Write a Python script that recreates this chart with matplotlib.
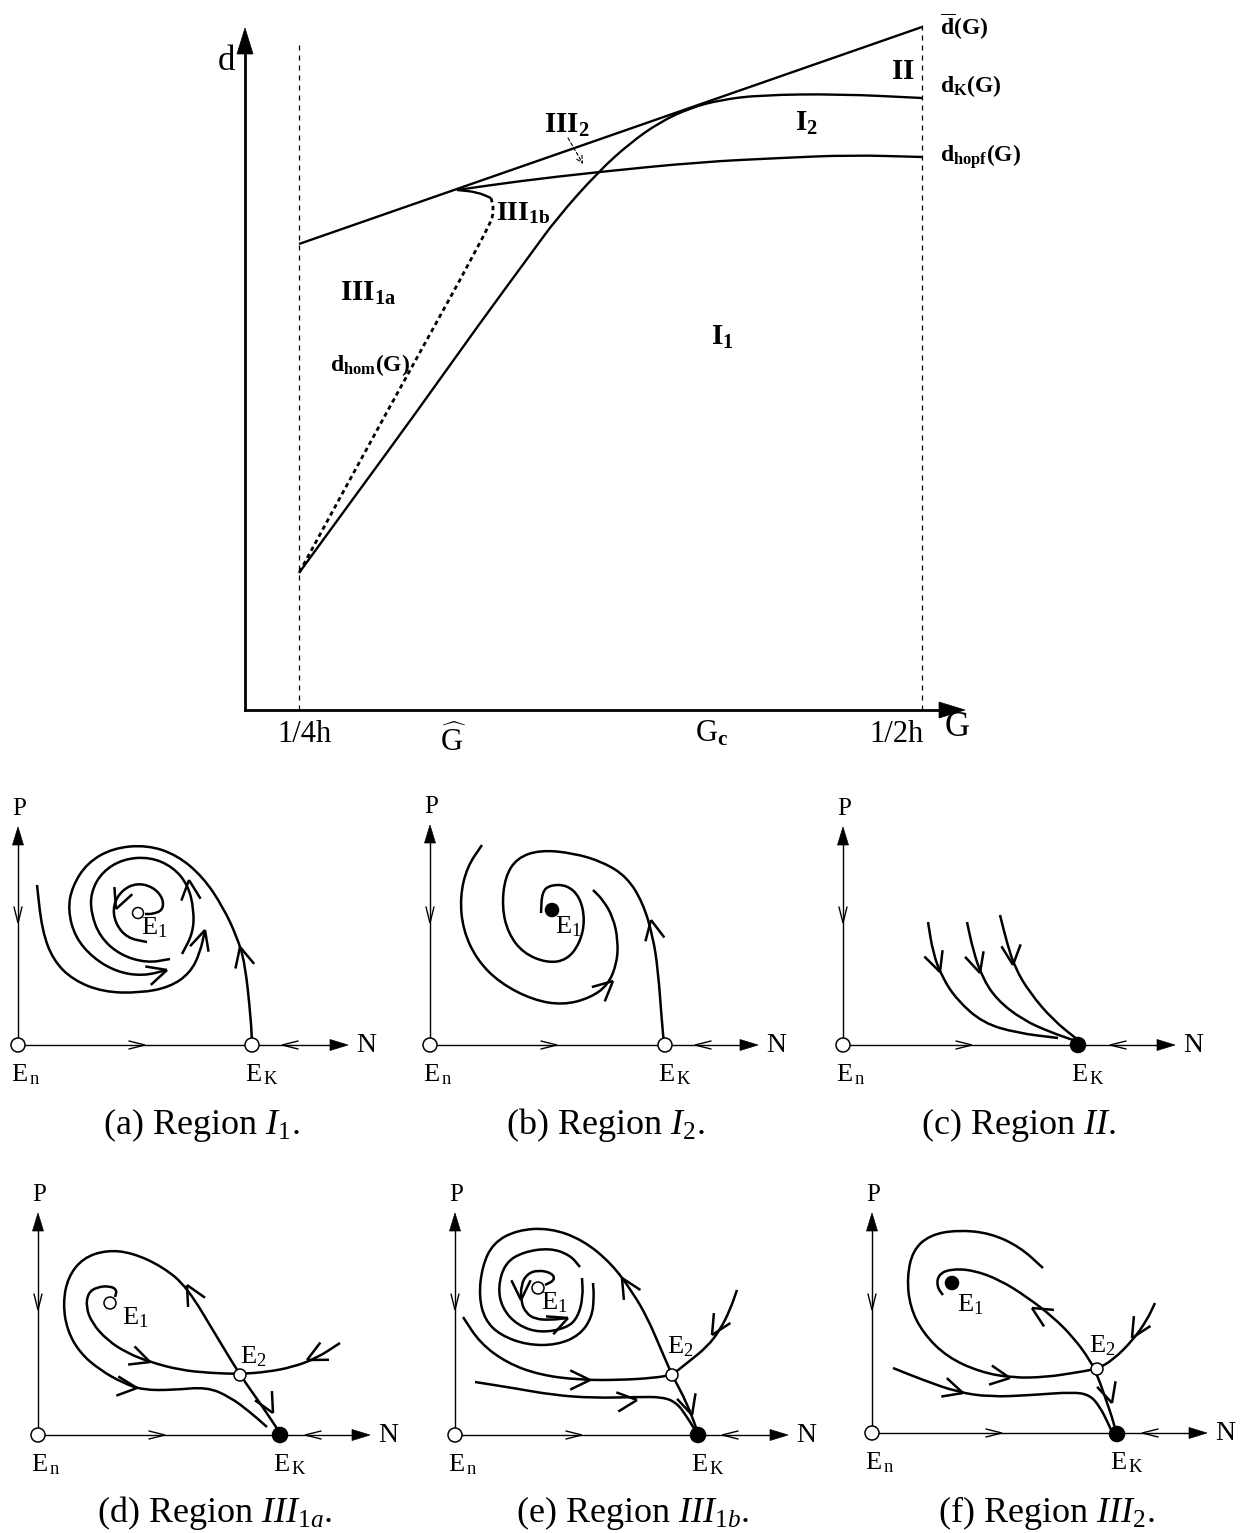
import numpy as np
import matplotlib
matplotlib.use("Agg")
import matplotlib.pyplot as plt
from matplotlib.path import Path
from matplotlib.patches import PathPatch, Circle, Polygon

plt.rcParams['font.family'] = ['Liberation Serif', 'DejaVu Serif']
plt.rcParams['mathtext.fontset'] = 'custom'
plt.rcParams['mathtext.rm'] = 'Liberation Serif'
plt.rcParams['mathtext.it'] = 'Liberation Serif:italic'
plt.rcParams['mathtext.bf'] = 'Liberation Serif:bold'

# ---------------- bifurcation diagram (pixel coords, y down) ----------------
d_bar = [(299, 244), (922, 27)]
d_K = [(299, 573), (350, 503), (413, 417), (480, 323), (530, 255), (557, 218),
       (598, 172), (630, 143), (660, 122), (690, 108), (720, 100), (760, 95),
       (840, 94), (922, 98)]
d_hopf = [(457, 190), (520, 181), (598, 172), (700, 162), (780, 158),
          (850, 155), (922, 157)]
cusp_branch = [(457, 190), (477, 192), (491, 198)]
d_hom = [(491, 198), (494, 210), (490, 226), (384, 417), (299, 573)]

tick_labels = ['1/4h', r'$\widehat{\mathrm{G}}$', r'$\mathrm{G}_{\mathbf{c}}$', '1/2h']
tick_x = [304, 453, 712, 897]
tick_y = [734, 741, 734, 734]

region_labels = [r'$\mathbf{II}$', r'$\mathbf{I}_{\mathbf{2}}$', r'$\mathbf{III}_{\mathbf{2}}$',
                 r'$\mathbf{III}_{\mathbf{1b}}$', r'$\mathbf{III}_{\mathbf{1a}}$',
                 r'$\mathbf{I}_{\mathbf{1}}$', r'$\mathbf{d}_{\mathbf{hom}}\mathbf{(G)}$']
region_xy = [(903, 72), (806, 123), (567, 125), (523, 213), (368, 293), (722, 337), (370, 365)]
region_size = [21, 21, 21, 20, 21, 21, 17]

curve_labels = [r'$\overline{\mathbf{d}}\mathbf{(G)}$', r'$\mathbf{d}_{\mathbf{K}}\mathbf{(G)}$',
                r'$\mathbf{d}_{\mathbf{hopf}}\mathbf{(G)}$']
curve_label_y = [27, 86, 157]

# ---------------- phase portraits ----------------
# axes: origin, P-arrow tip y, N-arrow tip x, chevrons (P down y, N right x, N left x)
A_AXES = [(18, 1045), 827, 348, (923, 145, 282)]
B_AXES = [(430, 1045), 825, 758, (923, 557, 695)]
C_AXES = [(843, 1045), 827, 1175, (923, 972, 1110)]
D_AXES = [(38, 1435), 1213, 370, (1310, 165, 305)]
E_AXES = [(455, 1435), 1213, 788, (1310, 582, 722)]
F_AXES = [(872, 1433), 1213, 1207, (1310, 1002, 1142)]

# (a) Region I1
A_SPIRAL = [(252, 1044), (251, 1020), (245, 963), (237, 937), (223, 907), (203, 877),
            (177, 855), (147, 845), (113, 848), (87, 863), (72, 887), (68, 910),
            (75, 937), (93, 958), (117, 972), (143, 976), (167, 970)]
A_RING = [(182, 954), (193, 933), (194, 910), (188, 885), (173, 867), (150, 857),
          (123, 859), (102, 872), (91, 892), (91, 913), (100, 937), (120, 955),
          (147, 963), (170, 959)]
A_INNER = [(147, 942), (127, 938), (115, 923), (113, 905), (122, 890), (137, 883),
           (153, 887), (163, 898), (163, 910), (153, 914), (145, 914)]
A_LEFT = [(37, 885), (42, 930), (53, 960), (73, 980), (103, 992), (140, 993),
          (170, 987), (190, 973), (200, 953), (205, 930)]
A_ARROWS = [(240, 947, -0.25, -1), (167, 970, 1, -0.3), (189, 880, -0.1, -1),
            (116, 909, -0.4, 1), (205, 930, 0.3, -1)]
A_POINTS = [(18, 1045, 7, False), (252, 1045, 7, False), (138, 913, 5.5, False)]
A_ELABELS = [('1', 141, 928)]

# (b) Region I2
B_LEFT = [(482, 845), (467, 867), (460, 897), (463, 930), (477, 960), (500, 983),
          (533, 1000), (563, 1005), (590, 998), (608, 985), (617, 963), (618, 940),
          (613, 917), (603, 900), (593, 890)]
B_SPIRAL = [(664, 1044), (662, 1023), (658, 970), (653, 937), (643, 903), (627, 877),
            (603, 862), (573, 853), (540, 850), (517, 858), (505, 877), (502, 907),
            (508, 933), (523, 953), (547, 963), (567, 960), (580, 943), (585, 920),
            (580, 897), (567, 885), (550, 885), (542, 892), (541, 913)]
B_ARROWS = [(613, 981, 1, -0.9), (651, 920, -0.2, -1)]
B_POINTS = [(430, 1045, 7, False), (665, 1045, 7, False), (552, 910, 6.5, True)]
B_ELABELS = [('1', 555, 927)]

# (c) Region II
C_1 = [(928, 922), (933, 953), (942, 977), (957, 1000), (983, 1023), (1017, 1033), (1058, 1038)]
C_2 = [(967, 922), (973, 950), (982, 977), (997, 1000), (1023, 1020), (1050, 1032), (1073, 1040)]
C_3 = [(1000, 915), (1007, 943), (1015, 968), (1030, 993), (1053, 1020), (1078, 1040)]
C_ARROWS = [(940, 972, 0.35, 1), (980, 973, 0.3, 1), (1013, 965, 0.1, 1)]
C_POINTS = [(843, 1045, 7, False), (1078, 1045, 7.5, True)]
C_ELABELS = []

# (d) Region III1a
D_LOOP = [(278, 1430), (260, 1403), (240, 1375), (217, 1337), (187, 1287), (163, 1267),
          (133, 1253), (107, 1250), (83, 1258), (68, 1277), (63, 1303), (67, 1330),
          (80, 1353), (100, 1370), (123, 1383), (143, 1390), (173, 1390), (207, 1387),
          (230, 1397), (250, 1412), (267, 1427)]
D_STABLE = [(115, 1297), (117, 1290), (110, 1286), (97, 1287), (88, 1293), (86, 1307),
            (92, 1323), (107, 1340), (127, 1353), (150, 1362), (180, 1370), (210, 1373),
            (240, 1374), (267, 1372), (293, 1367), (317, 1358), (340, 1343)]
D_ARROWS = [(187, 1285, -0.55, -1), (273, 1413, 0.55, 1), (137, 1388, 1, 0.1),
            (150, 1362, 1, 0.35), (307, 1360, -1, 0.5)]
D_POINTS = [(38, 1435, 7, False), (280, 1435, 7.5, True), (110, 1303, 6, False), (240, 1375, 6, False)]
D_ELABELS = [('1', 122, 1318), ('2', 240, 1357)]

# (e) Region III1b
E_LOOP = [(698, 1433), (687, 1403), (672, 1375), (660, 1347), (647, 1317), (633, 1293),
          (612, 1264), (583, 1240), (550, 1228), (517, 1230), (493, 1243), (482, 1267),
          (479, 1297), (485, 1320), (500, 1335), (527, 1345), (557, 1345), (580, 1335),
          (592, 1317), (594, 1297), (593, 1283)]
E_RING = [(582, 1278), (583, 1297), (578, 1317), (567, 1328), (540, 1333), (517, 1325),
          (502, 1308), (498, 1287), (505, 1263), (523, 1252), (550, 1248), (570, 1255),
          (580, 1267)]
E_INNER = [(545, 1285), (555, 1280), (552, 1273), (538, 1270), (527, 1274), (521, 1285),
           (521, 1302), (526, 1313), (535, 1319), (550, 1320), (568, 1318)]
E_LOW1 = [(463, 1317), (480, 1343), (507, 1363), (540, 1375), (580, 1380), (620, 1380),
          (653, 1378), (672, 1375), (687, 1363), (707, 1347), (720, 1330), (730, 1310), (737, 1290)]
E_LOW2 = [(475, 1382), (513, 1388), (553, 1395), (593, 1398), (637, 1397), (663, 1397),
          (677, 1403), (687, 1417), (695, 1430)]
E_ARROWS = [(622, 1278, -0.6, -1), (692, 1415, 0.3, 1), (521, 1300, 0, 1), (568, 1318, 1, -0.4),
            (590, 1380, 1, 0), (712, 1335, -0.6, 1), (637, 1400, 1, -0.1)]
E_POINTS = [(455, 1435, 7, False), (698, 1435, 7.5, True), (538, 1288, 6, False), (672, 1375, 6, False)]
E_ELABELS = [('1', 541, 1303), ('2', 667, 1347)]

# (f) Region III2
F_OUTER = [(1043, 1268), (1020, 1247), (990, 1233), (957, 1230), (930, 1235), (913, 1250),
           (907, 1277), (910, 1307), (923, 1333), (947, 1357), (980, 1372), (1013, 1378),
           (1047, 1377), (1073, 1373), (1097, 1369), (1113, 1360), (1133, 1340),
           (1147, 1320), (1155, 1303)]
F_UNSTABLE = [(943, 1295), (937, 1287), (938, 1275), (950, 1269), (973, 1270), (1000, 1280),
              (1027, 1297), (1053, 1317), (1073, 1337), (1090, 1360), (1098, 1377),
              (1105, 1397), (1112, 1417), (1116, 1432)]
F_LOW = [(893, 1368), (923, 1380), (957, 1392), (990, 1397), (1033, 1395), (1073, 1392),
         (1090, 1395), (1100, 1407), (1108, 1423), (1112, 1432)]
F_ARROWS = [(1010, 1378, 1, 0.15), (1132, 1338, -0.6, 1), (1032, 1308, -1, -0.6),
            (1112, 1403, 0.3, 1), (963, 1393, 1, 0.3)]
F_POINTS = [(872, 1433, 7, False), (1117, 1434, 7.5, True), (952, 1283, 6.5, True), (1097, 1369, 6, False)]
F_ELABELS = [('1', 957, 1305), ('2', 1089, 1346)]

captions = ['(a) Region $I_{\\mathrm{1}}$.', '(b) Region $I_{\\mathrm{2}}$.', '(c) Region $II$.',
            '(d) Region $III_{\\mathrm{1}a}$.', '(e) Region $III_{\\mathrm{1}b}$.',
            '(f) Region $III_{\\mathrm{2}}$.']
caption_xy = [(201, 1125), (605, 1125), (1019, 1125), (215, 1513), (633, 1513), (1046, 1513)]

panels = [
    (A_AXES, [A_SPIRAL, A_RING, A_INNER, A_LEFT], A_ARROWS, A_POINTS, A_ELABELS),
    (B_AXES, [B_LEFT, B_SPIRAL], B_ARROWS, B_POINTS, B_ELABELS),
    (C_AXES, [C_1, C_2, C_3], C_ARROWS, C_POINTS, C_ELABELS),
    (D_AXES, [D_LOOP, D_STABLE], D_ARROWS, D_POINTS, D_ELABELS),
    (E_AXES, [E_LOOP, E_RING, E_INNER, E_LOW1, E_LOW2], E_ARROWS, E_POINTS, E_ELABELS),
    (F_AXES, [F_OUTER, F_UNSTABLE, F_LOW], F_ARROWS, F_POINTS, F_ELABELS),
]

fig = plt.figure(figsize=(12.41, 15.33), dpi=100)
ax = fig.add_axes([0, 0, 1, 1])
ax.set_xlim(0, 1241)
ax.set_ylim(1533, 0)
ax.axis('off')


def smooth(pts):
    # quadratic bezier through the midpoints of the control polygon
    pts = np.asarray(pts, float)
    if len(pts) < 3:
        return Path(pts, [Path.MOVETO] + [Path.LINETO] * (len(pts) - 1))
    verts = [pts[0], (pts[0] + pts[1]) / 2]
    codes = [Path.MOVETO, Path.LINETO]
    for i in range(1, len(pts) - 1):
        verts += [pts[i], (pts[i] + pts[i + 1]) / 2]
        codes += [Path.CURVE3, Path.CURVE3]
    verts.append(pts[-1])
    codes.append(Path.LINETO)
    return Path(verts, codes)


def curve(pts, lw=1.8, ls='-'):
    ax.add_patch(PathPatch(smooth(pts), fill=False, lw=lw, ls=ls, ec='k', capstyle='butt'))


def chevron(x, y, dx, dy, size=22, half=26, lw=1.8):
    a = np.arctan2(dy, dx)
    for s in (-1, 1):
        b = a + np.pi + s * np.radians(half)
        ax.plot([x, x + size * np.cos(b)], [y, y + size * np.sin(b)], color='k', lw=lw,
                solid_capstyle='butt')


def arrow_head(tip, direction, length, half_w):
    d = np.array(direction, float)
    d /= np.hypot(*d)
    n = np.array([-d[1], d[0]])
    t = np.array(tip, float)
    base = t - d * length
    ax.add_patch(Polygon([t, base + n * half_w, base - n * half_w], closed=True, fc='k', ec='k', lw=0.5))


# ---- main diagram ----
ax.plot([245, 245], [710, 50], color='k', lw=2.0)
ax.plot([245, 945], [710, 710], color='k', lw=2.0)
arrow_head((245, 28), (0, -1), 26, 8)
arrow_head((965, 710), (1, 0), 26, 8)
ax.plot([299, 299], [45, 710], color='k', lw=0.9, ls=(0, (4, 4)))
ax.plot([922, 922], [25, 710], color='k', lw=0.9, ls=(0, (4, 4)))

curve(d_bar, lw=1.7)
curve(d_K, lw=1.7)
curve(d_hopf, lw=1.7)
curve(cusp_branch, lw=1.7)
curve(d_hom, lw=2.0, ls=(0, (1.6, 1.3)))
ax.annotate('', xy=(583, 164), xytext=(568, 138),
            arrowprops=dict(arrowstyle='->,head_length=0.5,head_width=0.25', lw=0.8,
                            ls=(0, (3, 2)), color='k', shrinkA=0, shrinkB=0))

ax.text(226, 62, 'd', fontsize=25, ha='center', va='center')
ax.text(957, 727, 'G', fontsize=25, ha='center', va='center')
for lab, x, y in zip(tick_labels, tick_x, tick_y):
    ax.text(x, y, lab, fontsize=22, ha='center', va='center')
for lab, (x, y), fs in zip(region_labels, region_xy, region_size):
    ax.text(x, y, lab, fontsize=fs, ha='center', va='center')
for lab, y in zip(curve_labels, curve_label_y):
    ax.text(940, y, lab, fontsize=17, ha='left', va='center')

# ---- phase portraits ----
for (origin, ptip, ntip, chev), curves, arrows, points, elabels in panels:
    x0, y0 = origin
    ax.plot([x0, x0], [y0, ptip + 10], color='k', lw=1.0)
    ax.plot([x0, ntip - 10], [y0, y0], color='k', lw=1.0)
    arrow_head((x0, ptip), (0, -1), 18, 5.5)
    arrow_head((ntip, y0), (1, 0), 18, 5.5)
    chevron(x0, chev[0], 0, 1, size=17, half=14, lw=1.0)
    chevron(chev[1], y0, 1, 0, size=17, half=14, lw=1.0)
    chevron(chev[2], y0, -1, 0, size=17, half=14, lw=1.0)
    ax.text(x0 + 1, ptip - 18, 'P', fontsize=18, ha='center', va='center')
    ax.text(ntip + 8, y0, 'N', fontsize=20, ha='left', va='center')
    ax.text(x0 - 7, y0 + 30, r'$\mathrm{E}_{\,\mathrm{n}}$', fontsize=19, ha='left', va='center')
    ekx = points[1][0]
    ax.text(ekx - 7, y0 + 30, r'$\mathrm{E}_{\,\mathrm{K}}$', fontsize=19, ha='left', va='center')
    for c in curves:
        curve(c)
    for (x, y, dx, dy) in arrows:
        chevron(x, y, dx, dy)
    for (x, y, r, filled) in points:
        ax.add_patch(Circle((x, y), r, fc='k' if filled else 'white', ec='k', lw=1.1, zorder=5))
    for sub, x, y in elabels:
        ax.text(x, y, r'$\mathrm{E}_{\mathrm{%s}}$' % sub, fontsize=19, ha='left', va='center', zorder=6)

for cap, (x, y) in zip(captions, caption_xy):
    ax.text(x, y, cap, fontsize=26, ha='center', va='center')

fig.savefig('out.png', dpi=100)
